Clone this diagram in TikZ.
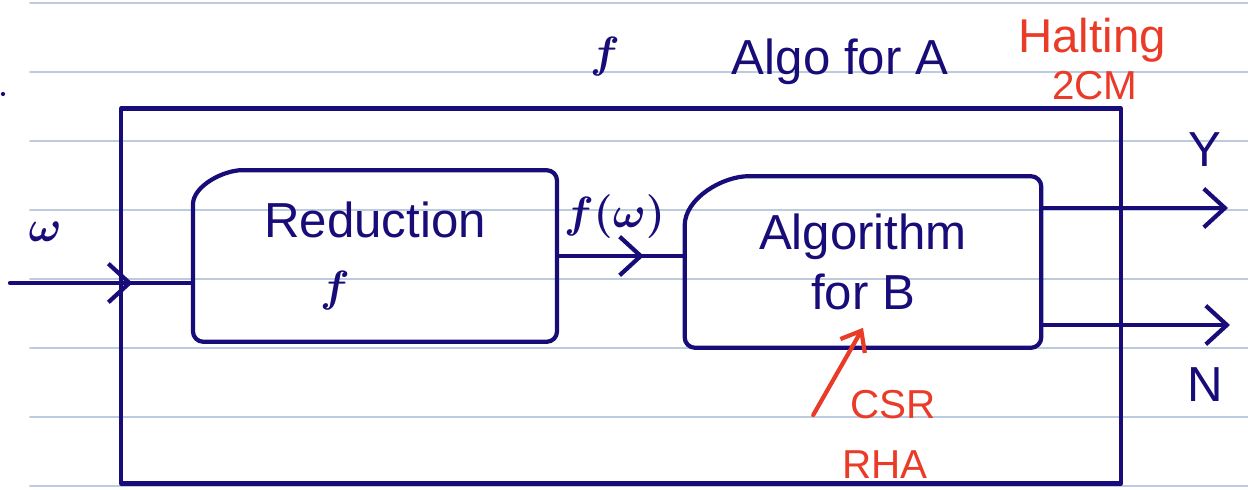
\documentclass[tikz,border=0pt]{standalone}
\usepackage{fontspec}
\setmainfont{Liberation Sans}
\usetikzlibrary{arrows.meta, decorations.markings}
\definecolor{ink}{HTML}{170C78}
\definecolor{redink}{HTML}{EA3B28}
\definecolor{ruling}{HTML}{BCCBDD}

\begin{document}
\begin{tikzpicture}[
    x=0.02cm, y=-0.02cm,
    line width=2.4pt, line cap=round, line join=round,
    hand/.style={text=ink, font=\fontsize{28}{34}\selectfont\boldmath, inner sep=0pt},
    bigmath/.style={hand, font=\fontsize{34}{36}\selectfont\boldmath},
    note/.style={text=redink, font=\fontsize{23}{26}\selectfont, inner sep=0pt},
    blk/.style={hand, minimum height=3.35cm, align=center},
    >={Straight Barb[length=12pt, width=22pt]},
    midarr/.style={postaction={decorate},
      decoration={markings, mark=at position #1 with {\arrow{>}}}}
  ]
    \useasboundingbox (0,0) rectangle (1248,490);

    % ruled paper
    \foreach \k in {0,...,7}
      \draw[ruling, line width=1pt] (30,3+69*\k) -- (1248,3+69*\k);
    \fill[ink] (3,94) circle (1.2pt);

    % outer box: algorithm for A
    \node[draw=ink, minimum width=20cm, minimum height=7.5cm] (algA) at (621,296) {};
    \node[bigmath, font=\fontsize{40}{42}\selectfont\boldmath] (lblf) at (605,57) {$f$};
    \node[hand] (lblA) at (840,62) {Algo for A};
    \node[note, font=\fontsize{27}{30}\selectfont] (halt) at (1092,40) {Halting};
    \node[note] (twocm) at (1095,86) {2CM};

    % inner boxes
    \node[blk, minimum width=7.2cm] (red) at (375,256)
      {Reduction\\[2pt]{\fontsize{34}{36}\selectfont\boldmath$f$}\hspace*{1.6cm}};
    \draw[ink, rounded corners=6pt] ([yshift=-0.9cm]red.north west) to[out=90, in=180]
      ([xshift=1.2cm]red.north west) -- (red.north east) -- (red.south east)
      -- (red.south west) -- cycle;
    \node[blk, minimum width=7.05cm] (alg) at (863,262) {Algorithm\\for B};
    \draw[ink, rounded corners=6pt] ([yshift=-1.2cm]alg.north west) to[out=90, in=180]
      ([xshift=1.5cm]alg.north west) -- (alg.north east) -- (alg.south east)
      -- (alg.south west) -- cycle;

    % input and outputs
    \coordinate (win) at (10,283);
    \node[bigmath] (lblw) at (45,232) {$\omega$};
    \draw[ink, midarr=0.67] (win) -- (win -| red.west);
    \draw[ink, midarr=0.68] (red.east) -- (red.east -| alg.west)
      node[bigmath, font=\fontsize{30}{32}\selectfont\boldmath, pos=0.45, above=0.3cm] (lblfw) {$f(\omega)$};

    \coordinate (yend) at (1228,208);
    \coordinate (nend) at (1230,325);
    \draw[ink, ->] (alg.east |- yend) -- (yend);
    \draw[ink, ->] (alg.east |- nend) -- (nend);
    \node[hand] (lblY) at (1205,150) {Y};
    \node[hand] (lblN) at (1205,385) {N};

    % notes on B
    \node[note] (csr) at (893,405) {CSR};
    \node[note] (rha) at (885,465) {RHA};
    \draw[redink, -{Straight Barb[length=10pt, width=16pt]}]
      ([xshift=-0.7cm, yshift=-0.2cm]csr.west) -- ([yshift=0.4cm]alg.south);
\end{tikzpicture}
\end{document}
